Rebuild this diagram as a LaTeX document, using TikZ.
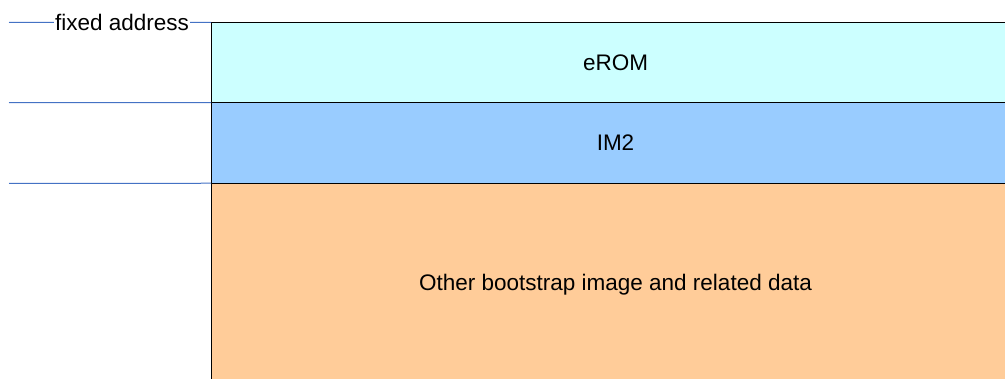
\documentclass[tikz,border=0pt]{standalone}
\usepackage{fontspec}
\setmainfont{Liberation Sans}
\definecolor{eromc}{HTML}{CCFFFF}
\definecolor{imc}{HTML}{99CCFF}
\definecolor{otherc}{HTML}{FFCC99}
\definecolor{linec}{RGB}{68,114,196}
\begin{document}
\begin{tikzpicture}[x=1pt,y=1pt,
  region/.style={draw=black, line width=1pt, minimum width=809pt, inner sep=0pt, outer sep=0pt,
    font=\fontsize{22.5}{27}\selectfont},
  guide/.style={draw=linec, line width=1pt},
  lbl/.style={fill=white, inner sep=1pt, font=\fontsize{22.5}{27}\selectfont}]
\useasboundingbox (0,0) rectangle (1005,-379);
\clip (0,0) rectangle (1005,-379);
\node[region, fill=eromc, minimum height=80.3pt] (erom) at (615.5,-62.5) {eROM};
\node[region, fill=imc, minimum height=80.6pt, anchor=north] (im2) at (erom.south) {IM2};
\node[region, fill=otherc, minimum height=203pt, anchor=north] (other) at (im2.south) {Other bootstrap image and related data};
\coordinate (g1) at (9,-22.3);
\coordinate (g2) at (9,-102.7);
\coordinate (g3) at (9,-183.3);
\draw[guide] (g1) -- node[lbl, pos=0.56] {fixed address} (erom.north west);
\draw[guide] (g2) -- (erom.south west);
\draw[guide] (g3) -- (im2.south west);
\end{tikzpicture}
\end{document}
